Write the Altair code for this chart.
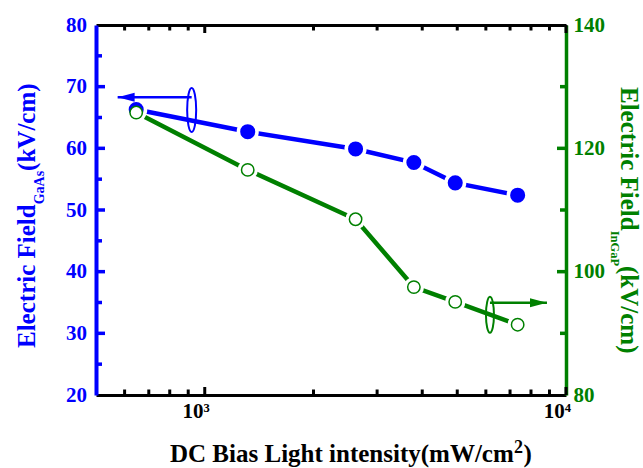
import altair as alt
import pandas as pd

FONT = "Liberation Serif"
BLUE = "#0000FF"
GREEN = "#008000"

# ---- data ----
intensity = [646, 1315, 2615, 3792, 4936, 7348]          # mW/cm^2
field_gaas = [66.3, 62.7, 59.9, 57.7, 54.4, 52.4]          # kV/cm (left axis)
field_ingap = [125.8, 116.5, 108.5, 97.5, 95.1, 91.4]      # kV/cm (right axis)

x_ticks = [600, 700, 800, 900, 1000, 2000, 3000, 4000, 5000, 6000, 7000, 8000, 9000, 10000]
x_major_ticks = [1000, 10000]
gaas_ticks = [20, 25, 30, 35, 40, 45, 50, 55, 60, 65, 70, 75, 80]
ingap_ticks = [80, 90, 100, 110, 120, 130, 140]

# annotation arrows (data coordinates)
blue_arrow_x = [574, 920]
blue_arrow_y = [68.3]
blue_ellipse = [920, 66.2]
green_arrow_x = [6159, 8858]
green_arrow_y = [94.97]
green_ellipse = [6159, 93.0]

W, H = 470, 370
X_DOM = [500, 10000]
YB_DOM = [20, 80]
YG_DOM = [80, 140]
XS = alt.Scale(type="log", domain=X_DOM, nice=False)
YB = alt.Scale(domain=YB_DOM, nice=False, zero=False)
YG = alt.Scale(domain=YG_DOM, nice=False, zero=False)

PX_PER_DECADE = W / 1.30103
Y_UNIT = (YB_DOM[1] - YB_DOM[0]) / H


def x_shift(x0, px):
    return x0 * 10 ** (px / PX_PER_DECADE)


blue_df = pd.DataFrame({"x": intensity, "v": field_gaas})
green_df = pd.DataFrame({"x": intensity, "v": field_ingap})
blue_arrow_df = pd.DataFrame({"x": [blue_arrow_x[0]], "x2": [blue_arrow_x[1]], "v": blue_arrow_y})
green_arrow_df = pd.DataFrame({"x": [green_arrow_x[0]], "x2": [green_arrow_x[1]], "v": green_arrow_y})
blue_tip_df = pd.DataFrame({"x": [blue_arrow_x[0]], "v": blue_arrow_y})
green_tip_df = pd.DataFrame({"x": [green_arrow_x[1]], "v": green_arrow_y})
blue_ell_df = pd.DataFrame({"x": [blue_ellipse[0]], "v": [blue_ellipse[1]]})
green_ell_df = pd.DataFrame({"x": [green_ellipse[0]], "v": [green_ellipse[1]]})
dummy = alt.Data(values=[{}])

rows_x = []
for t in x_ticks:
    L = 8 if t in x_major_ticks else 5.5
    rows_x.append({"x": t, "x2": t, "v": YB_DOM[0], "v2": YB_DOM[0] + L * Y_UNIT})
    rows_x.append({"x": t, "x2": t, "v": YB_DOM[1], "v2": YB_DOM[1] - L * Y_UNIT})
xtick_df = pd.DataFrame(rows_x)
ybtick_df = pd.DataFrame([
    {"x": X_DOM[0], "x2": x_shift(X_DOM[0], 9 if t % 10 == 0 else 6), "v": t, "v2": t}
    for t in gaas_ticks if t not in YB_DOM
])
ygtick_df = pd.DataFrame([
    {"x": X_DOM[1], "x2": x_shift(X_DOM[1], -(9 if t % 20 == 0 else 6)), "v": t, "v2": t}
    for t in ingap_ticks if t not in YG_DOM
])

common_axis = dict(grid=False, ticks=False, tickSize=0, labelFont=FONT, labelFontWeight="bold",
                   labelFontSize=21, labelFlush=False, labelOverlap=False, title=None)

x_bottom_axis = alt.Axis(
    orient="bottom", values=x_ticks,
    labelExpr="datum.value == 1000 ? '10\u00b3' : (datum.value == 10000 ? '10\u2074' : '')",
    domainColor="black", domainWidth=3, labelColor="black",
    labelPadding=5.5, labelOffset=-9, **common_axis,
)
x_top_axis = alt.Axis(
    orient="top", values=x_ticks, labels=False, domainColor="black", domainWidth=3,
    grid=False, ticks=False, title=None,
)
y_left_axis = alt.Axis(
    orient="left", values=gaas_ticks,
    labelExpr="datum.value % 10 == 0 ? datum.label : ''",
    domainColor=BLUE, domainWidth=4, labelColor=BLUE, labelPadding=9.5, **common_axis,
)
y_right_axis = alt.Axis(
    orient="right", values=ingap_ticks,
    labelExpr="datum.value % 20 == 0 ? datum.label : ''",
    domainColor=GREEN, domainWidth=3.5, labelColor=GREEN, labelPadding=7, **common_axis,
)


def xe(axis=None):
    return alt.X("x:Q", scale=XS, axis=axis)


def yb(axis=None):
    return alt.Y("v:Q", scale=YB, axis=axis)


def yg(axis=None):
    return alt.Y("v:Q", scale=YG, axis=axis)


xticks_layer = alt.Chart(xtick_df).mark_rule(color="black", strokeWidth=3).encode(
    x=xe(), x2="x2:Q", y=yb(), y2="v2:Q")
ybticks_layer = alt.Chart(ybtick_df).mark_rule(color=BLUE, strokeWidth=3.5).encode(
    x=xe(), x2="x2:Q", y=yb(), y2="v2:Q")
ygticks_layer = alt.Chart(ygtick_df).mark_rule(color=GREEN, strokeWidth=3.5).encode(
    x=xe(), x2="x2:Q", y=yg(), y2="v2:Q")

blue_line = alt.Chart(blue_df).mark_line(color=BLUE, strokeWidth=4.5).encode(
    x=xe(x_bottom_axis), y=yb(y_left_axis))
green_line = alt.Chart(green_df).mark_line(color=GREEN, strokeWidth=4.5).encode(
    x=xe(x_top_axis), y=yg(y_right_axis))

blue_halo = alt.Chart(blue_df).mark_point(shape="circle", filled=True, color="white", size=491, opacity=1).encode(
    x=xe(), y=yb())
green_halo = alt.Chart(green_df).mark_point(shape="circle", filled=True, color="white", size=415, opacity=1).encode(
    x=xe(), y=yg())
blue_pts = alt.Chart(blue_df).mark_point(shape="circle", filled=True, color=BLUE, size=227, opacity=1).encode(
    x=xe(), y=yb())
green_pts = alt.Chart(green_df).mark_point(
    shape="circle", filled=True, fill="white", stroke=GREEN, strokeWidth=1.5, size=154, opacity=1
).encode(x=xe(), y=yg())

ARROW_LEFT = "M0,0L2,-0.53L2,0.53Z"
ARROW_RIGHT = "M0,0L-2,-0.53L-2,0.53Z"


def ellipse_path(a):
    k = 0.5523 * a
    return (f"M0,-1C{k:.4f},-1 {a:.4f},-0.5523 {a:.4f},0C{a:.4f},0.5523 {k:.4f},1 0,1"
            f"C{-k:.4f},1 {-a:.4f},0.5523 {-a:.4f},0C{-a:.4f},-0.5523 {-k:.4f},-1 0,-1Z")


blue_arrow = alt.Chart(blue_arrow_df).mark_rule(color=BLUE, strokeWidth=2.5).encode(
    x=xe(), x2="x2:Q", y=yb())
blue_head = alt.Chart(blue_tip_df).mark_point(shape=ARROW_LEFT, filled=True, color=BLUE, size=289, opacity=1).encode(
    x=xe(), y=yb())
blue_ell = alt.Chart(blue_ell_df).mark_point(shape=ellipse_path(0.205), filled=False, color=BLUE,
                                             strokeWidth=2, size=1936, opacity=1).encode(x=xe(), y=yb())
green_arrow = alt.Chart(green_arrow_df).mark_rule(color=GREEN, strokeWidth=2.5).encode(
    x=xe(), x2="x2:Q", y=yg())
green_head = alt.Chart(green_tip_df).mark_point(shape=ARROW_RIGHT, filled=True, color=GREEN, size=289, opacity=1).encode(
    x=xe(), y=yg())
green_ell = alt.Chart(green_ell_df).mark_point(shape=ellipse_path(0.222), filled=False, color=GREEN,
                                               strokeWidth=2, size=1296, opacity=1).encode(x=xe(), y=yg())


def label(text, x, y, angle, size, color, align="left"):
    return alt.Chart(dummy).mark_text(
        text=text, angle=angle, fontSize=size, font=FONT, fontWeight="bold",
        color=color, align=align, baseline="alphabetic"
    ).encode(x=alt.value(x), y=alt.value(y))


titles = [
    label("Electric Field", -61, 323, 270, 25, BLUE),
    label("GaAs", -52, 179.3, 270, 14, BLUE),
    label("(kV/cm)", -61, 145.9, 270, 25, BLUE),
    label("Electric Field", 525, 62, 90, 25, GREEN),
    label("InGaP", 515, 205.7, 90, 12.5, GREEN),
    label("(kV/cm)", 525, 241, 90, 25, GREEN),
    label("DC Bias Light intensity(mW/cm", 74, 437, 0, 25, "black"),
    label("2", 418, 428, 0, 18, "black"),
    label(")", 427.5, 437, 0, 25, "black"),
]

chart = alt.layer(
    blue_line, green_line,
    blue_halo, green_halo, blue_pts, green_pts,
    blue_arrow, blue_head, blue_ell, green_arrow, green_head, green_ell,
    *titles,
    xticks_layer, ybticks_layer, ygticks_layer,
).resolve_scale(y="independent").resolve_axis(x="independent", y="independent").properties(
    width=W, height=H,
    autosize=alt.AutoSizeParams(type="none"),
    padding={"left": 96, "top": 25, "right": 77, "bottom": 73},
    background="white",
).configure_view(stroke=None)

chart.save("out.html", embed_options={"renderer": "svg", "actions": False})
